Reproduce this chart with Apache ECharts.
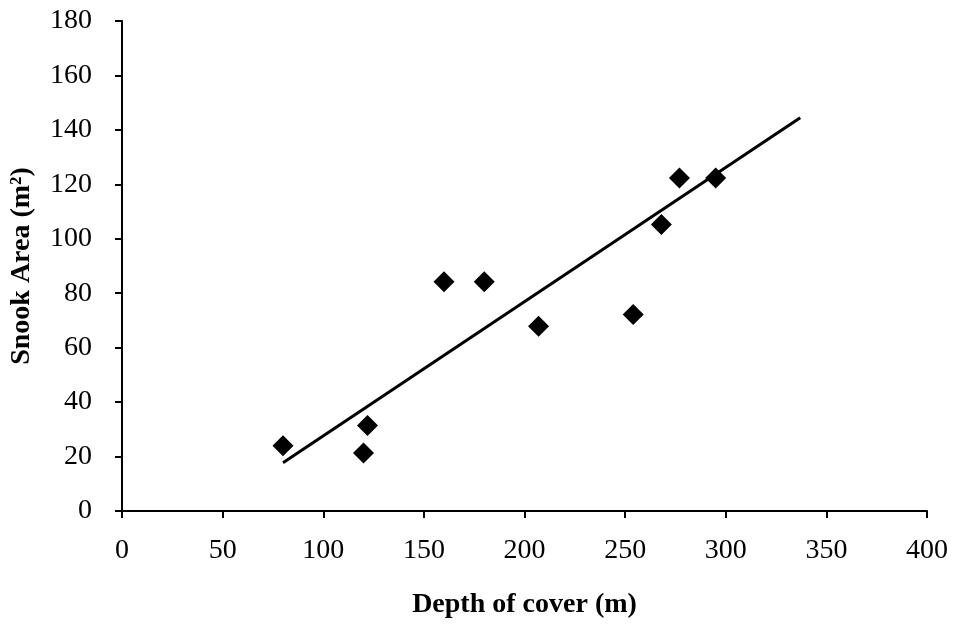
<!DOCTYPE html>
<html>
<head>
<meta charset="utf-8">
<script src="https://cdn.jsdelivr.net/npm/echarts@6/dist/echarts.min.js"></script>
<style>html,body{margin:0;padding:0;background:#fff}#c{width:957px;height:627px}</style>
</head>
<body>
<div id="c"></div>
<script>
var depth = [80, 120, 122, 160, 180, 207, 254, 268, 277, 295];
var snookArea = [24, 21.3, 31.4, 84.2, 84.2, 67.9, 72.2, 105.2, 122.3, 122.3];
var trendX = [80, 337];
var trendY = [17.7, 144.5];
var xTitle = 'Depth of cover (m)';
var yTitle = 'Snook Area (m\u00B2)';

var font = '"Liberation Serif","Times New Roman",serif';
var chart = echarts.init(document.getElementById('c'), null, {renderer: 'canvas'});
function axisCommon(margin) {
  return {
    axisLine: {show: true, onZero: false, lineStyle: {color: '#000', width: 2}},
    axisTick: {show: true, inside: false, length: 7, lineStyle: {color: '#000', width: 2}},
    splitLine: {show: false},
    axisLabel: {color: '#000', fontFamily: font, fontSize: 28, margin: margin},
    nameTextStyle: {color: '#000', fontFamily: font, fontSize: 28, fontWeight: 'bold'}
  };
}
chart.setOption({
  animation: false,
  backgroundColor: '#fff',
  grid: {left: 122, right: 30, top: 21, bottom: 116, containLabel: false},
  xAxis: Object.assign(axisCommon(26), {
    type: 'value', min: 0, max: 400, interval: 50,
    name: xTitle, nameLocation: 'middle', nameGap: 80
  }),
  yAxis: Object.assign(axisCommon(30), {
    type: 'value', min: 0, max: 180, interval: 20,
    name: yTitle, nameLocation: 'middle', nameGap: 86, nameRotate: 90
  }),
  series: [
    {
      type: 'line',
      data: trendX.map(function (x, i) { return [x, trendY[i]]; }),
      showSymbol: false,
      lineStyle: {color: '#000', width: 3},
      z: 2
    },
    {
      type: 'scatter',
      data: depth.map(function (x, i) { return [x, snookArea[i]]; }),
      symbol: 'diamond',
      symbolSize: [21, 21],
      itemStyle: {color: '#000', opacity: 1},
      z: 3
    }
  ]
});
</script>
</body>
</html>
